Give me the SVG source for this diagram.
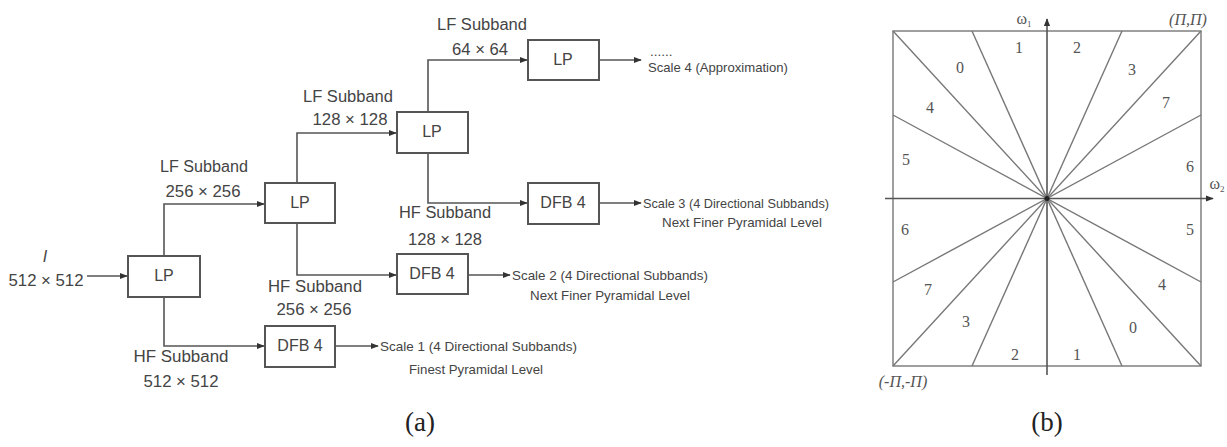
<svg xmlns="http://www.w3.org/2000/svg" width="1227" height="447" viewBox="0 0 1227 447">
<style>
.box{fill:#fff;stroke:#555;stroke-width:2}
.ln{fill:none;stroke:#555;stroke-width:1.6}
.t{font-family:"Liberation Sans",Arial,sans-serif;fill:#444;text-anchor:middle}
.lbl{font-size:16px}
.sc{font-size:13.5px;text-anchor:start}
.sc2{font-size:13.5px}
.bx{font-size:16px}
.n{font-family:"Liberation Serif","Times New Roman",serif;font-size:16px;fill:#555;text-anchor:middle}
.cap{font-family:"Liberation Serif","Times New Roman",serif;font-size:27px;fill:#222;text-anchor:middle}
.ax{fill:none;stroke:#555;stroke-width:1.6}
.fl{fill:none;stroke:#777;stroke-width:1.4}
</style>
<defs>
<marker id="ah" viewBox="0 0 10 10" refX="9" refY="5" markerWidth="8" markerHeight="8" markerUnits="userSpaceOnUse" orient="auto">
<path d="M0,1 L10,5 L0,9 z" fill="#333"/>
</marker>
</defs>

<g id="connectors">
<path class="ln" d="M87,276 H127" marker-end="url(#ah)"/>
<path class="ln" d="M164,256 V204 H264" marker-end="url(#ah)"/>
<path class="ln" d="M164,297 V346 H264" marker-end="url(#ah)"/>
<path class="ln" d="M297,183 V133 H396" marker-end="url(#ah)"/>
<path class="ln" d="M297,223 V275 H396" marker-end="url(#ah)"/>
<path class="ln" d="M428,112 V60 H527" marker-end="url(#ah)"/>
<path class="ln" d="M428,153 V203 H527" marker-end="url(#ah)"/>
<path class="ln" d="M599,60 H641" marker-end="url(#ah)"/>
<path class="ln" d="M599,203 H641" marker-end="url(#ah)"/>
<path class="ln" d="M468,275 H510" marker-end="url(#ah)"/>
<path class="ln" d="M335,346 H378" marker-end="url(#ah)"/>
</g>

<g id="input">
<text class="t lbl" x="45" y="262" font-style="italic">I</text>
<text class="t lbl" x="46" y="286" textLength="75" lengthAdjust="spacingAndGlyphs">512 × 512</text>
</g>

<g id="lp1"><rect class="box" x="128" y="256" width="72" height="41"/><text class="t bx" x="164" y="281">LP</text></g>
<g id="lp2"><rect class="box" x="265" y="183" width="70" height="40"/><text class="t bx" x="300" y="208">LP</text></g>
<g id="lp3"><rect class="box" x="397" y="112" width="71" height="41"/><text class="t bx" x="432" y="137">LP</text></g>
<g id="lp4"><rect class="box" x="528" y="40" width="71" height="40"/><text class="t bx" x="563" y="65">LP</text></g>
<g id="dfb3"><rect class="box" x="528" y="183" width="71" height="41"/><text class="t bx" x="563" y="208">DFB 4</text></g>
<g id="dfb2"><rect class="box" x="397" y="254" width="71" height="40"/><text class="t bx" x="432" y="279">DFB 4</text></g>
<g id="dfb1"><rect class="box" x="265" y="326" width="70" height="41"/><text class="t bx" x="300" y="351">DFB 4</text></g>

<g id="labels-a">
<text class="t lbl" x="204" y="172" textLength="88" lengthAdjust="spacingAndGlyphs">LF Subband</text>
<text class="t lbl" x="203" y="197" textLength="75" lengthAdjust="spacingAndGlyphs">256 × 256</text>
<text class="t lbl" x="348" y="102" textLength="90" lengthAdjust="spacingAndGlyphs">LF Subband</text>
<text class="t lbl" x="350" y="125" textLength="75" lengthAdjust="spacingAndGlyphs">128 × 128</text>
<text class="t lbl" x="482" y="30" textLength="90" lengthAdjust="spacingAndGlyphs">LF Subband</text>
<text class="t lbl" x="480" y="55" textLength="56" lengthAdjust="spacingAndGlyphs">64 × 64</text>
<text class="t lbl" x="445" y="218" textLength="92" lengthAdjust="spacingAndGlyphs">HF Subband</text>
<text class="t lbl" x="445" y="245" textLength="74" lengthAdjust="spacingAndGlyphs">128 × 128</text>
<text class="t lbl" x="315" y="292" textLength="94" lengthAdjust="spacingAndGlyphs">HF Subband</text>
<text class="t lbl" x="314" y="315" textLength="75" lengthAdjust="spacingAndGlyphs">256 × 256</text>
<text class="t lbl" x="181" y="362" textLength="95" lengthAdjust="spacingAndGlyphs">HF Subband</text>
<text class="t lbl" x="181" y="387" textLength="75" lengthAdjust="spacingAndGlyphs">512 × 512</text>
</g>

<g id="outputs">
<text class="t sc" x="650" y="56" font-size="11">......</text>
<text class="t sc" x="648" y="72" textLength="140" lengthAdjust="spacingAndGlyphs">Scale 4 (Approximation)</text>
<text class="t sc" x="643" y="208" textLength="186" lengthAdjust="spacingAndGlyphs">Scale 3 (4 Directional Subbands)</text>
<text class="t sc2" x="742" y="227" textLength="160" lengthAdjust="spacingAndGlyphs">Next Finer Pyramidal Level</text>
<text class="t sc" x="512" y="280" textLength="196" lengthAdjust="spacingAndGlyphs">Scale 2 (4 Directional Subbands)</text>
<text class="t sc2" x="610" y="300" textLength="160" lengthAdjust="spacingAndGlyphs">Next Finer Pyramidal Level</text>
<text class="t sc" x="380" y="351" textLength="197" lengthAdjust="spacingAndGlyphs">Scale 1 (4 Directional Subbands)</text>
<text class="t sc2" x="476" y="374" textLength="134" lengthAdjust="spacingAndGlyphs">Finest Pyramidal Level</text>
</g>

<text class="cap" x="420" y="431">(a)</text>

<g id="freq-plane">
<rect x="893" y="31" width="308" height="335" class="fl"/>
<line class="fl" x1="972" y1="31" x2="1122" y2="366"/>
<line class="fl" x1="1122" y1="31" x2="972" y2="366"/>
<line class="fl" x1="893" y1="31" x2="1201" y2="366"/>
<line class="fl" x1="1201" y1="31" x2="893" y2="366"/>
<line class="fl" x1="893" y1="115" x2="1201" y2="282"/>
<line class="fl" x1="1201" y1="115" x2="893" y2="282"/>
<line class="ax" x1="1047" y1="375" x2="1047" y2="19" marker-end="url(#ah)"/>
<line class="ax" x1="885" y1="198.5" x2="1213" y2="198.5" marker-end="url(#ah)"/>
<circle cx="1047" cy="198.5" r="2.5" fill="#222"/>
<text class="n" font-size="13" x="1024" y="24">ω<tspan font-size="9" dy="3">1</tspan></text>
<text class="n" font-size="13" x="1217" y="189">ω<tspan font-size="9" dy="3">2</tspan></text>
<text class="n" font-size="14" font-style="italic" x="1188" y="25">(Π,Π)</text>
<text class="n" font-size="14" font-style="italic" x="903" y="387">(-Π,-Π)</text>
<text class="n" x="1019" y="53">1</text>
<text class="n" x="1077" y="53">2</text>
<text class="n" x="960" y="73">0</text>
<text class="n" x="1132" y="75">3</text>
<text class="n" x="930" y="113">4</text>
<text class="n" x="1166" y="108">7</text>
<text class="n" x="906" y="165">5</text>
<text class="n" x="1190" y="172">6</text>
<text class="n" x="905" y="235">6</text>
<text class="n" x="1190" y="235">5</text>
<text class="n" x="928" y="295">7</text>
<text class="n" x="1162" y="290">4</text>
<text class="n" x="966" y="327">3</text>
<text class="n" x="1133" y="333">0</text>
<text class="n" x="1015" y="360">2</text>
<text class="n" x="1077" y="360">1</text>
</g>

<text class="cap" x="1047" y="431">(b)</text>
</svg>
